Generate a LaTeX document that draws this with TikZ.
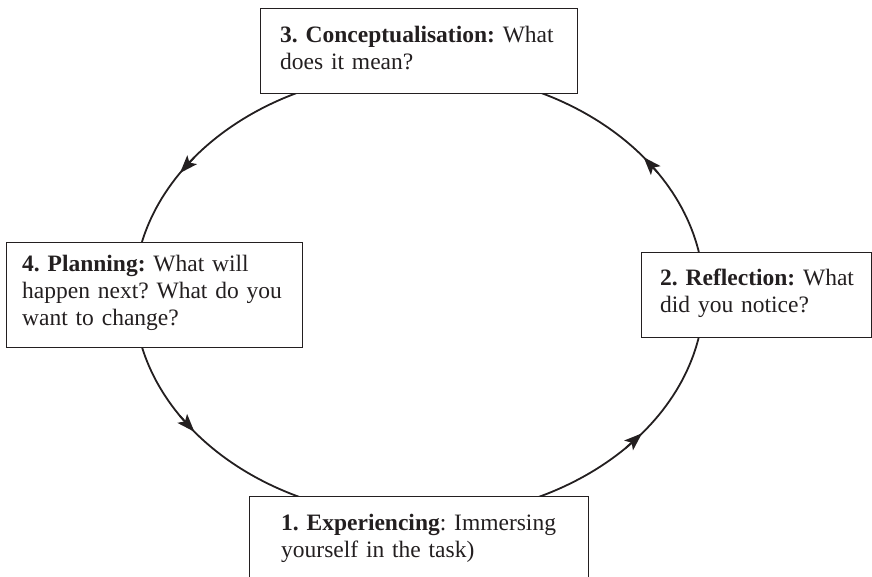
\documentclass[tikz,border=0pt]{standalone}
\usepackage{fontspec}
\setmainfont{Liberation Serif}
\usetikzlibrary{arrows.meta}
\definecolor{ink}{HTML}{231F20}
\begin{document}
\begin{tikzpicture}[x=1pt,y=1pt,
  stagebox/.style={draw=ink, line width=1.3pt, fill=white, inner sep=0pt, anchor=north west},
  stagetext/.style={anchor=base west, inner sep=0pt, align=left, text=ink,
    font=\fontsize{23.5}{27}\selectfont\frenchspacing},
  cyclepath/.style={draw=ink, line width=1.8pt},
  flowtip/.style={draw=ink, line width=1.8pt, -{Stealth[length=18pt,width=13pt,inset=4pt]}}]
\useasboundingbox (0,0) rectangle (872,577);

% the learning cycle
\coordinate (c) at (419,282.5);
\draw[cyclepath] (c) ellipse [x radius=285, y radius=223];
\foreach \t [count=\i] in {38,147,218,321.5}
  \draw[flowtip] ([shift={(\t-5:285 and 223)}]c) coordinate (tail\i)
    -- ([shift={(\t:285 and 223)}]c) coordinate (tip\i);

% stage boxes
\node[stagebox, minimum width=317pt, minimum height=85pt]  (box3) at (260,569) {};
\node[stagebox, minimum width=296pt, minimum height=105pt] (box4) at (6,335) {};
\node[stagebox, minimum width=230pt, minimum height=85pt]  (box2) at (641,325) {};
\node[stagebox, minimum width=339pt, minimum height=110pt] (box1) at (249,81) {};

% stage texts
\node[stagetext, text width=300pt] (t3) at (280,534)
  {\textbf{3. Conceptualisation:} What\\does it mean?};
\node[stagetext, text width=280pt] (t4) at (22,305)
  {\textbf{4. Planning:} What will\\happen next? What do you\\want to change?};
\node[stagetext, text width=220pt] (t2) at (660,291)
  {\textbf{2. Reflection:} What\\did you notice?};
\node[stagetext, text width=310pt] (t1) at (281,46)
  {\textbf{1. Experiencing}: Immersing\\yourself in the task)};
\end{tikzpicture}
\end{document}
